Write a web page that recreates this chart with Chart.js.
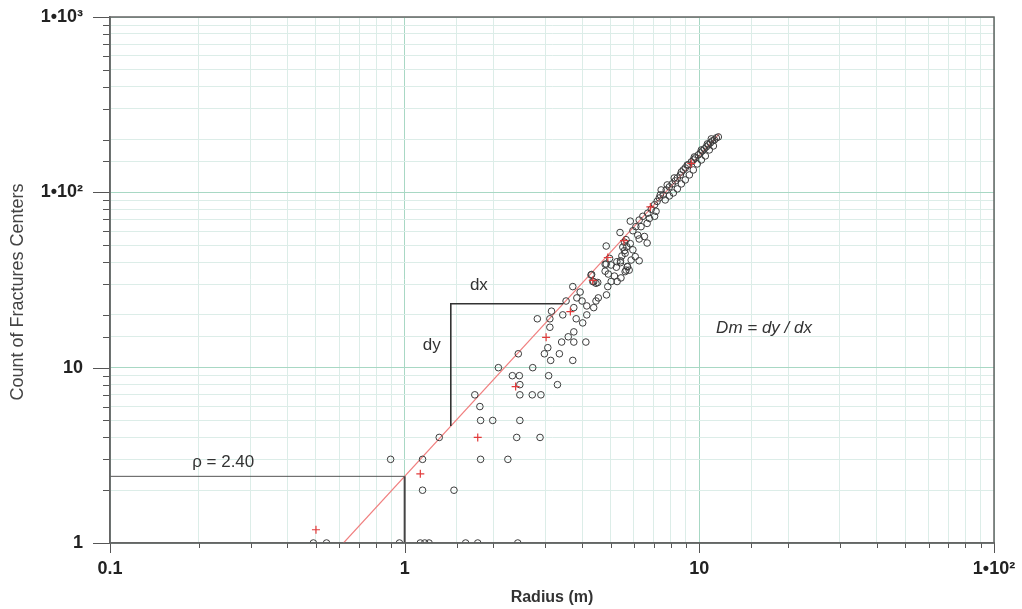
<!DOCTYPE html>
<html lang="en">
<head>
<meta charset="UTF-8">
<title>Count of Fractures Centers vs Radius</title>
<script src="https://cdn.jsdelivr.net/npm/chart.js"></script>
<style>
  html, body { margin: 0; padding: 0; background: #fff; }
  #wrap { width: 1022px; height: 609px; position: relative; }
</style>
</head>
<body>
<div id="wrap"><canvas id="fractalChart"></canvas></div>
<script>
// measured points: radius (m) and number of fracture centres inside it
const radius = [
  0.49, 0.543, 0.96, 1.13, 1.17, 1.21, 1.61, 1.77, 2.42,
  1.15, 1.47,
  0.896, 1.15, 1.81, 2.24,
  1.31, 2.40, 2.88,
  1.81, 1.99, 2.46,
  1.80,
  1.73, 2.46, 2.71, 2.90,
  2.46, 3.30,
  2.32, 2.45, 3.08,
  2.08, 2.72,
  3.13, 3.72,
  2.43, 2.98, 3.35,
  3.06,
  3.41, 3.75, 4.12,
  3.59, 3.75, 3.11,
  2.82, 3.11, 3.82, 4.02,
  3.44, 4.15, 3.15,
  3.75, 4.38, 4.15,
  3.53, 4.00, 4.46,
  3.84, 4.54, 4.84, 3.94,
  3.72, 4.89,
  4.38, 4.52, 4.46,
  4.35, 5.02, 5.26, 5.42, 5.15,
  4.31, 4.91, 4.29,
  5.60, 4.79, 5.78, 5.64,
  5.23, 5.70, 5.02, 5.70,
  4.79, 5.40, 4.83, 5.25, 5.40,
  5.87, 6.25, 4.96, 5.46, 6.06, 5.60,
  5.57, 5.95, 4.83, 5.50, 5.67,
  5.83, 6.65, 5.57, 5.64, 6.25,
  6.51, 6.18, 5.38, 5.95,
  6.09, 6.34, 6.65, 5.83, 6.25, 6.77,
  6.43, 7.05, 6.68, 7.13, 6.87, 7.05, 7.19, 7.37,
  7.31, 7.54, 7.72, 7.91, 8.09, 8.29, 8.42, 8.62, 8.82, 8.96,
  9.18, 9.39, 9.54, 9.69, 9.92, 10.08, 10.24, 10.40, 10.56, 10.73,
  10.90, 11.07, 11.25, 11.42, 11.60,
  7.66, 7.91, 8.16, 8.42, 8.69, 8.96, 9.25, 9.54, 9.84, 10.16,
  10.48, 10.81, 11.16,
  7.42, 7.78, 8.22, 8.69, 9.10, 9.62, 10.16, 10.65, 10.98
];
const count = [
  1, 1, 1, 1, 1, 1, 1, 1, 1,
  2, 2,
  3, 3, 3, 3,
  4, 4, 4,
  5, 5, 5,
  6,
  7, 7, 7, 7,
  8, 8,
  9, 9, 9,
  10, 10,
  11, 11,
  12, 12, 12,
  13,
  14, 14, 14,
  15, 16, 17,
  19, 19, 19, 18,
  20, 20, 21,
  22, 22, 22.5,
  24, 24, 24,
  25, 25, 26, 27,
  29, 29,
  30.9, 30.6, 30.3,
  31, 31, 31, 32.5, 33.3,
  34, 34.2, 33.8,
  35.3, 35.5, 36, 36,
  37.4, 37.6, 38.5, 37.8,
  38.9, 39.7, 39, 40.2, 40.7,
  41.1, 40.7, 42, 43.4, 43, 44.9,
  46.5, 47, 49.4, 48.7, 49,
  51, 51.4, 52, 53.7, 54.2,
  56, 57, 59, 60.4,
  63.7, 63.7, 66.5, 68.5, 69.5, 71,
  73, 73, 76, 78, 80.1, 85, 88.8, 96.7,
  92.9, 96.7, 103.2, 107.4, 111.7, 116.2, 120.8, 125.7, 134.2, 137.8,
  143.3, 149.1, 153, 157.1, 163.4, 167.8, 172.3, 176.9, 181.6, 186.4,
  191.3, 196.5, 199.1, 204.4, 207,
  90.5, 95.4, 99.2, 104.6, 111.7, 117.7, 125.7, 134.2, 145.2, 153,
  161.3, 174.5, 183.9,
  103.2, 110.2, 120.8, 130.7, 143.3, 159.2, 174.5, 188.9, 201.7
];

// averaged points (red crosses)
const meanRadius = [0.50, 1.13, 1.77, 2.38, 3.02, 3.65, 4.35, 4.89, 5.55, 6.82, 9.39];
const meanCount  = [1.19, 2.48, 4.0, 7.8, 14.9, 20.9, 31.5, 42.5, 53, 82.6, 146];

// power-law fit: count = rho * r^Dm
const rho = 2.40;
const dm = 1.83;
const fitRange = [0.62, 11.7];

// dy/dx construction corners
const slopeX = [1.434, 3.45];

const xTickLabels = { '0.1': '0.1', '1': '1', '10': '10', '100': '1\u202210\u00b2' };
const yTickLabels = { '1': '1', '10': '10', '100': '1\u202210\u00b2', '1000': '1\u202210\u00b3' };

const fitY = x => rho * Math.pow(x, dm);
const isDecade = v => Math.abs(Math.log10(v) - Math.round(Math.log10(v))) < 1e-6;
const keyOf = v => String(Math.round(v * 1000) / 1000);

const FONT = "Arial, 'Liberation Sans', sans-serif";
const gridMinor = '#dcede8';
const gridMajor = '#a8d8c4';

// tick marks, frame, y title and formula labels
const decorations = {
  id: 'decorations',
  afterDraw(chart) {
    const { ctx, chartArea: a, scales: { x, y } } = chart;
    ctx.save();
    ctx.strokeStyle = '#555';
    ctx.lineWidth = 1;
    ctx.beginPath();
    y.ticks.forEach(t => {
      const py = Math.round(y.getPixelForValue(t.value)) + 0.5;
      const len = isDecade(t.value) ? 17 : 7;
      ctx.moveTo(a.left - len, py);
      ctx.lineTo(a.left, py);
    });
    x.ticks.forEach(t => {
      const px = Math.round(x.getPixelForValue(t.value)) + 0.5;
      const len = isDecade(t.value) ? 10 : 5;
      ctx.moveTo(px, a.bottom);
      ctx.lineTo(px, a.bottom + len);
    });
    ctx.stroke();

    ctx.strokeStyle = '#666';
    ctx.lineWidth = 1.5;
    ctx.strokeRect(a.left, a.top, a.right - a.left, a.bottom - a.top);

    // vertical axis title, a little below the plot's middle
    ctx.save();
    ctx.translate(18, (a.top + a.bottom) / 2 + 12);
    ctx.rotate(-Math.PI / 2);
    ctx.fillStyle = '#444';
    ctx.font = '18px ' + FONT;
    ctx.textAlign = 'center';
    ctx.textBaseline = 'middle';
    ctx.fillText('Count of Fractures Centers', 0, 0);
    ctx.restore();

    ctx.fillStyle = '#333';
    ctx.textBaseline = 'middle';
    ctx.font = '17px ' + FONT;
    ctx.textAlign = 'left';
    ctx.fillText('\u03c1 = 2.40', x.getPixelForValue(0.19), y.getPixelForValue(2.9));
    ctx.textAlign = 'center';
    ctx.fillText('dx', x.getPixelForValue(1.786), y.getPixelForValue(29.6));
    ctx.fillText('dy', x.getPixelForValue(1.236), y.getPixelForValue(13.5));
    ctx.font = 'italic 17px ' + FONT;
    ctx.textAlign = 'left';
    ctx.fillText('Dm = dy / dx', x.getPixelForValue(11.4), y.getPixelForValue(16.8));
    ctx.restore();
  }
};

const points = radius.map((r, i) => ({ x: r, y: count[i] }));
const means = meanRadius.map((r, i) => ({ x: r, y: meanCount[i] }));
const cornerY = fitY(slopeX[1]);

new Chart(document.getElementById('fractalChart'), {
  type: 'scatter',
  data: {
    datasets: [
      {
        type: 'line',
        data: fitRange.map(r => ({ x: r, y: fitY(r) })),
        borderColor: '#f07f7f',
        borderWidth: 1.2,
        pointRadius: 0,
        order: 3
      },
      {
        type: 'line',
        data: [{ x: 0.1, y: rho }, { x: 1, y: rho }],
        borderColor: '#555',
        borderWidth: 1,
        pointRadius: 0,
        order: 2
      },
      {
        type: 'line',
        data: [{ x: 1, y: rho }, { x: 1, y: 1 }],
        borderColor: '#444',
        borderWidth: 2,
        pointRadius: 0,
        order: 2
      },
      {
        type: 'line',
        data: [{ x: slopeX[0], y: fitY(slopeX[0]) }, { x: slopeX[0], y: cornerY }, { x: slopeX[1], y: cornerY }],
        borderColor: '#333',
        borderWidth: 1.6,
        pointRadius: 0,
        order: 2
      },
      {
        data: points,
        pointStyle: 'circle',
        pointRadius: 3.3,
        borderWidth: 1,
        borderColor: '#3c3c3c',
        backgroundColor: 'rgba(0,0,0,0)',
        order: 1
      },
      {
        data: means,
        pointStyle: 'cross',
        pointRadius: 4,
        borderWidth: 1.2,
        borderColor: '#e23b3b',
        order: 0
      }
    ]
  },
  options: {
    responsive: true,
    maintainAspectRatio: false,
    animation: false,
    layout: { padding: { top: 17, right: 28, left: 0, bottom: 0 } },
    plugins: { legend: { display: false }, tooltip: { enabled: false } },
    scales: {
      x: {
        type: 'logarithmic',
        min: 0.1,
        max: 100,
        afterFit: s => { s.height = 66; s.paddingLeft = 0; s.paddingRight = 0; },
        border: { color: '#666', width: 1.5 },
        grid: {
          drawTicks: false,
          color: c => (c.tick && isDecade(c.tick.value) ? gridMajor : gridMinor),
          lineWidth: 1
        },
        ticks: {
          autoSkip: false,
          maxRotation: 0,
          padding: 15,
          color: '#222',
          font: { family: FONT, size: 18, weight: 'bold' },
          callback: v => xTickLabels[keyOf(v)] || ''
        },
        title: {
          display: true,
          text: 'Radius (m)',
          color: '#333',
          font: { family: FONT, size: 16, weight: 'bold' },
          padding: { top: 2, bottom: 2 }
        }
      },
      y: {
        type: 'logarithmic',
        min: 1,
        max: 1000,
        afterFit: s => { s.width = 110; s.paddingTop = 0; s.paddingBottom = 0; },
        border: { color: '#666', width: 1.5 },
        grid: {
          drawTicks: false,
          color: c => (c.tick && isDecade(c.tick.value) ? gridMajor : gridMinor),
          lineWidth: 1
        },
        ticks: {
          autoSkip: false,
          padding: 27,
          color: '#222',
          font: { family: FONT, size: 18, weight: 'bold' },
          callback: v => yTickLabels[keyOf(v)] || ''
        }
      }
    }
  },
  plugins: [decorations]
});
</script>
</body>
</html>
